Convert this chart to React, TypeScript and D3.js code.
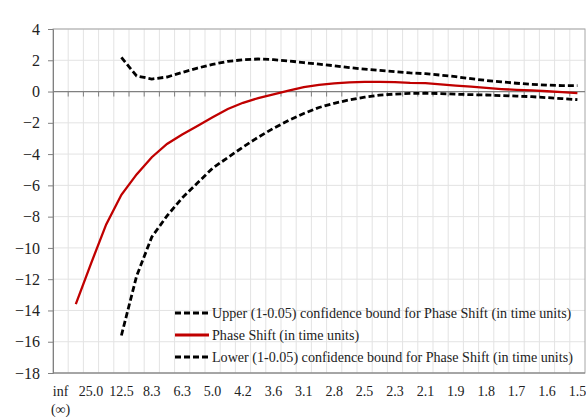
import React, { useEffect, useRef } from 'react';
import * as d3 from 'd3';

// period labels for each frequency index k = 0..34 (50 / k)
const periods = ['inf', '50.0', '25.0', '16.7', '12.5', '10.0', '8.3', '7.1', '6.3', '5.6', '5.0', '4.5', '4.2', '3.8', '3.6', '3.3', '3.1', '2.9', '2.8', '2.6', '2.5', '2.4', '2.3', '2.2', '2.1', '2.0', '1.9', '1.9', '1.8', '1.7', '1.7', '1.6', '1.6', '1.5', '1.5'];

const phaseShift = [null, -13.6, -11.0, -8.5, -6.6, -5.3, -4.2, -3.35, -2.75, -2.2, -1.65, -1.12, -0.72, -0.42, -0.18, 0.06, 0.28, 0.42, 0.52, 0.58, 0.62, 0.62, 0.6, 0.55, 0.54, 0.46, 0.38, 0.31, 0.23, 0.16, 0.11, 0.07, 0.02, -0.04, -0.1];
const upperBound = [null, null, null, null, 2.18, 1.0, 0.8, 0.93, 1.22, 1.5, 1.74, 1.93, 2.03, 2.08, 2.04, 1.96, 1.85, 1.75, 1.65, 1.53, 1.43, 1.35, 1.27, 1.19, 1.14, 1.05, 0.95, 0.82, 0.71, 0.62, 0.53, 0.46, 0.41, 0.38, 0.38];
const lowerBound = [null, null, null, null, -15.6, -11.8, -9.3, -7.95, -6.8, -5.85, -4.9, -4.22, -3.55, -2.92, -2.35, -1.85, -1.4, -1.02, -0.75, -0.53, -0.36, -0.23, -0.16, -0.12, -0.11, -0.13, -0.17, -0.2, -0.22, -0.26, -0.29, -0.33, -0.39, -0.45, -0.52];

const yTicks = [4, 2, 0, -2, -4, -6, -8, -10, -12, -14, -16, -18];

const legendItems = [
  { label: 'Upper (1-0.05) confidence bound for Phase Shift (in time units)', color: '#000', dash: '6,3' },
  { label: 'Phase Shift (in time units)', color: '#c00000', dash: null },
  { label: 'Lower (1-0.05) confidence bound for Phase Shift (in time units)', color: '#000', dash: '6,3' },
];

export default function App() {
  const svgRef = useRef(null);

  useEffect(() => {
    const svg = d3.select(svgRef.current);
    svg.selectAll('*').remove();

    const left = 53, right = 585, top = 29, bottom = 373;
    const font = "'Liberation Serif', 'DejaVu Serif', serif";

    const idx = periods.map((_, i) => i);
    const x = d3.scaleBand().domain(idx).range([left, right]);
    const y = d3.scaleLinear().domain([-18, 4]).range([bottom, top]);

    // grid
    const grid = svg.append('g');
    grid.selectAll('line.v').data(idx.slice(1)).enter().append('line')
      .attr('x1', d => x(d)).attr('x2', d => x(d))
      .attr('y1', top).attr('y2', bottom)
      .attr('stroke', '#e3e3e3').attr('stroke-width', 1);
    grid.selectAll('line.h').data(yTicks).enter().append('line')
      .attr('x1', left).attr('x2', right)
      .attr('y1', d => y(d)).attr('y2', d => y(d))
      .attr('stroke', '#e3e3e3').attr('stroke-width', 1);

    // plot border
    svg.append('rect')
      .attr('x', left).attr('y', top)
      .attr('width', right - left).attr('height', bottom - top)
      .attr('fill', 'none').attr('stroke', '#a6a6a6');

    // y axis
    const yAxisGroup = svg.append('g').attr('transform', `translate(${left},0)`);
    yAxisGroup.call(d3.axisLeft(y).tickValues(yTicks).tickSize(5).tickPadding(8));
    yAxisGroup.attr('font-family', null);
    yAxisGroup.select('.domain').attr('stroke', '#808080');
    yAxisGroup.selectAll('.tick line').attr('stroke', '#808080');
    yAxisGroup.selectAll('text').style('font-family', font).style('font-size', '16px').attr('fill', '#222');

    // x axis line at zero, ticks between categories
    const zero = y(0);
    svg.append('line')
      .attr('x1', left).attr('x2', right).attr('y1', zero).attr('y2', zero)
      .attr('stroke', '#808080').attr('stroke-width', 1.2);
    svg.append('g').selectAll('line').data(idx.slice(1)).enter().append('line')
      .attr('x1', d => x(d)).attr('x2', d => x(d))
      .attr('y1', zero).attr('y2', zero + 5)
      .attr('stroke', '#808080');
    svg.append('line')
      .attr('x1', left).attr('x2', right).attr('y1', bottom).attr('y2', bottom)
      .attr('stroke', '#808080').attr('stroke-width', 1.2);

    // x labels at the bottom, every other category
    const labels = svg.append('g');
    labels.selectAll('text').data(idx.filter(i => i % 2 === 0)).enter().append('text')
      .attr('x', d => x(d) + x.bandwidth() / 2)
      .attr('y', 396)
      .attr('text-anchor', 'middle')
      .style('font-family', font).style('font-size', '14px').attr('fill', '#222')
      .text(d => periods[d]);
    labels.append('text')
      .attr('x', x(0) + x.bandwidth() / 2).attr('y', 414)
      .attr('text-anchor', 'middle')
      .style('font-family', font).style('font-size', '14px').attr('fill', '#222')
      .text('(∞)');

    // series
    const line = d3.line()
      .defined(d => d != null)
      .x((d, i) => x(i) + x.bandwidth() / 2)
      .y(d => y(d));

    svg.append('path').datum(upperBound)
      .attr('d', line).attr('fill', 'none')
      .attr('stroke', '#000').attr('stroke-width', 2.8).attr('stroke-dasharray', '6,3');
    svg.append('path').datum(phaseShift)
      .attr('d', line).attr('fill', 'none')
      .attr('stroke', '#c00000').attr('stroke-width', 2.3);
    svg.append('path').datum(lowerBound)
      .attr('d', line).attr('fill', 'none')
      .attr('stroke', '#000').attr('stroke-width', 2.8).attr('stroke-dasharray', '6,3');

    // legend
    const legend = svg.append('g').attr('transform', 'translate(175,313)');
    const rows = legend.selectAll('g').data(legendItems).enter().append('g')
      .attr('transform', (d, i) => `translate(0,${i * 22})`);
    rows.append('line')
      .attr('x1', 0).attr('x2', 34).attr('y1', 0).attr('y2', 0)
      .attr('stroke', d => d.color).attr('stroke-width', 2.8)
      .attr('stroke-dasharray', d => d.dash);
    rows.append('text')
      .attr('x', 37).attr('y', 5)
      .style('font-family', font).style('font-size', '14.1px').attr('fill', '#222')
      .text(d => d.label);
  }, []);

  return (
    <div style={{ position: 'fixed', left: 0, top: 0 }}>
      <svg ref={svgRef} width="586" height="417" style={{ display: 'block', background: '#fff' }} />
    </div>
  );
}
